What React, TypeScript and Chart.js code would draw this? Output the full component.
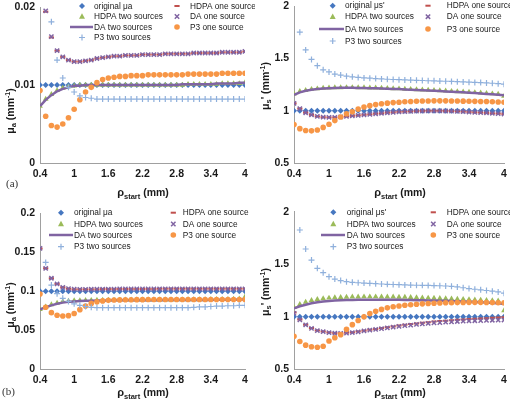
import React, { useEffect, useRef } from 'react';
import { Chart, registerables } from 'chart.js';
Chart.register(...registerables);

// ---------- data ----------
const xValues = [0.4, 0.5, 0.6, 0.7, 0.8, 0.9, 1.0, 1.1, 1.2, 1.3,
  1.4, 1.5, 1.6, 1.7, 1.8, 1.9, 2.0, 2.1, 2.2, 2.3,
  2.4, 2.5, 2.6, 2.7, 2.8, 2.9, 3.0, 3.1, 3.2, 3.3,
  3.4, 3.5, 3.6, 3.7, 3.8, 3.9, 4.0];
const xTickValues = [0.4, 1, 1.6, 2.2, 2.8, 3.4, 4];
const xTickLabels = ['0.4', '1', '1.6', '2.2', '2.8', '3.4', '4'];

const seriesNamesMuA = ['original μa', 'HDPA one source', 'HDPA two sources', 'DA one source', 'DA two sources', 'P3 one source', 'P3 two sources'];
const seriesNamesMuS = ["original μs'", 'HDPA one source', 'HDPA two sources', 'DA one source', 'DA two sources', 'P3 one source', 'P3 two sources'];

// (a) left: mu_a, true 0.01
const aYTicks = [0, 0.01, 0.02];
const aYLabels = ['0', '0.01', '0.02'];
const aOriginal = [0.01, 0.01, 0.01, 0.01, 0.01, 0.01, 0.01, 0.01, 0.01, 0.01,
  0.01, 0.01, 0.01, 0.01, 0.01, 0.01, 0.01, 0.01, 0.01, 0.01,
  0.01, 0.01, 0.01, 0.01, 0.01, 0.01, 0.01, 0.01, 0.01, 0.01,
  0.01, 0.01, 0.01, 0.01, 0.01, 0.01, 0.01];
const aHdpaOne = [null, 0.0194, 0.0161, 0.0144, 0.0136, 0.0132, 0.0130, 0.0130, 0.0131, 0.0132,
  0.0134, 0.0135, 0.0136, 0.0137, 0.0137, 0.0138, 0.0138, 0.0138, 0.0139, 0.0139,
  0.0139, 0.0139, 0.0140, 0.0140, 0.0140, 0.0140, 0.0140, 0.0141, 0.0141, 0.0141,
  0.0141, 0.0141, 0.0142, 0.0142, 0.0142, 0.0142, 0.0143];
const aHdpaTwo = [0.0073, 0.0082, 0.0088, 0.0093, 0.0096, 0.0098, 0.0099, 0.0100, 0.0100, 0.0100,
  0.0100, 0.0100, 0.0100, 0.0100, 0.0100, 0.0100, 0.0100, 0.0100, 0.0100, 0.0100,
  0.0100, 0.0100, 0.0100, 0.0100, 0.0100, 0.0100, 0.0101, 0.0101, 0.0101, 0.0101,
  0.0101, 0.0101, 0.0102, 0.0102, 0.0102, 0.0102, 0.0103];
const aDaOne = [null, 0.0195, 0.0162, 0.0144, 0.0136, 0.0132, 0.0130, 0.0130, 0.0131, 0.0132,
  0.0134, 0.0135, 0.0136, 0.0137, 0.0137, 0.0138, 0.0138, 0.0138, 0.0139, 0.0139,
  0.0139, 0.0139, 0.0140, 0.0140, 0.0140, 0.0140, 0.0140, 0.0141, 0.0141, 0.0141,
  0.0141, 0.0141, 0.0142, 0.0142, 0.0142, 0.0142, 0.0143];
const aDaTwo = [0.0073, 0.0081, 0.0087, 0.0092, 0.0095, 0.0097, 0.0099, 0.0099, 0.0100, 0.0100,
  0.0100, 0.0100, 0.0100, 0.0100, 0.0100, 0.0100, 0.0100, 0.0100, 0.0100, 0.0100,
  0.0100, 0.0100, 0.0100, 0.0100, 0.0100, 0.0101, 0.0101, 0.0101, 0.0101, 0.0101,
  0.0101, 0.0102, 0.0102, 0.0102, 0.0102, 0.0103, 0.0103];
const aP3One = [0.0093, 0.0060, 0.0048, 0.0046, 0.0050, 0.0058, 0.0069, 0.0081, 0.0091, 0.0097,
  0.0103, 0.0107, 0.0109, 0.0110, 0.0111, 0.0111, 0.0112, 0.0112, 0.0112, 0.0113,
  0.0113, 0.0113, 0.0113, 0.0113, 0.0113, 0.0113, 0.0114, 0.0114, 0.0114, 0.0114,
  0.0114, 0.0114, 0.0115, 0.0115, 0.0115, 0.0115, 0.0115];
const aP3Two = [null, null, 0.0181, 0.0132, 0.0109, 0.0097, 0.0091, 0.0086, 0.0084, 0.0083,
  0.0082, 0.0082, 0.0082, 0.0082, 0.0082, 0.0082, 0.0082, 0.0082, 0.0082, 0.0082,
  0.0082, 0.0082, 0.0082, 0.0082, 0.0082, 0.0082, 0.0082, 0.0082, 0.0082, 0.0082,
  0.0082, 0.0082, 0.0082, 0.0082, 0.0082, 0.0082, 0.0082];

// (a) right: mu_s', true 1
const sYTicks = [0.5, 1, 1.5, 2];
const sYLabels = ['0.5', '1', '1.5', '2'];
const bOriginal = [1, 1, 1, 1, 1, 1, 1, 1, 1, 1,
  1, 1, 1, 1, 1, 1, 1, 1, 1, 1,
  1, 1, 1, 1, 1, 1, 1, 1, 1, 1,
  1, 1, 1, 1, 1, 1, 1];
const bHdpaOne = [1.07, 1.02, 0.98, 0.96, 0.945, 0.938, 0.936, 0.936, 0.94, 0.945,
  0.95, 0.955, 0.96, 0.965, 0.97, 0.975, 0.98, 0.984, 0.988, 0.99,
  0.993, 0.995, 0.997, 0.998, 0.998, 0.998, 0.997, 0.995, 0.993, 0.99,
  0.987, 0.984, 0.981, 0.978, 0.975, 0.972, 0.968];
const bHdpaTwo = [1.16, 1.185, 1.195, 1.205, 1.21, 1.215, 1.218, 1.22, 1.221, 1.222,
  1.222, 1.221, 1.22, 1.219, 1.218, 1.216, 1.214, 1.212, 1.21, 1.207,
  1.205, 1.202, 1.2, 1.197, 1.195, 1.192, 1.189, 1.186, 1.183, 1.18,
  1.177, 1.174, 1.17, 1.166, 1.162, 1.158, 1.14];
const bDaOne = [1.07, 1.02, 0.98, 0.96, 0.945, 0.938, 0.936, 0.936, 0.94, 0.945,
  0.95, 0.955, 0.96, 0.965, 0.97, 0.975, 0.98, 0.984, 0.988, 0.99,
  0.993, 0.995, 0.997, 0.998, 0.998, 0.998, 0.997, 0.995, 0.993, 0.99,
  0.987, 0.984, 0.981, 0.978, 0.975, 0.972, 0.968];
const bDaTwo = [1.15, 1.175, 1.19, 1.2, 1.207, 1.212, 1.215, 1.217, 1.218, 1.218,
  1.218, 1.217, 1.216, 1.215, 1.214, 1.212, 1.21, 1.208, 1.206, 1.203,
  1.2, 1.198, 1.195, 1.192, 1.19, 1.187, 1.184, 1.181, 1.178, 1.175,
  1.171, 1.168, 1.164, 1.16, 1.156, 1.152, 1.148];
const bP3One = [0.868, 0.828, 0.81, 0.807, 0.815, 0.84, 0.87, 0.905, 0.94, 0.97,
  0.99, 1.015, 1.035, 1.048, 1.058, 1.066, 1.072, 1.077, 1.081, 1.085,
  1.088, 1.09, 1.092, 1.093, 1.094, 1.094, 1.094, 1.093, 1.092, 1.091,
  1.09, 1.089, 1.088, 1.087, 1.085, 1.083, 1.08];
const bP3Two = [null, 1.75, 1.58, 1.49, 1.43, 1.39, 1.37, 1.35, 1.34, 1.33,
  1.323, 1.318, 1.313, 1.31, 1.307, 1.303, 1.3, 1.298, 1.296, 1.294,
  1.292, 1.29, 1.288, 1.286, 1.285, 1.283, 1.281, 1.279, 1.277, 1.275,
  1.272, 1.27, 1.268, 1.265, 1.262, 1.258, 1.253];

// (b) left: mu_a, true 0.1
const cYTicks = [0, 0.05, 0.1, 0.15, 0.2];
const cYLabels = ['0', '0.05', '0.1', '0.15', '0.2'];
const cOriginal = [0.1, 0.1, 0.1, 0.1, 0.1, 0.1, 0.1, 0.1, 0.1, 0.1,
  0.1, 0.1, 0.1, 0.1, 0.1, 0.1, 0.1, 0.1, 0.1, 0.1,
  0.1, 0.1, 0.1, 0.1, 0.1, 0.1, 0.1, 0.1, 0.1, 0.1,
  0.1, 0.1, 0.1, 0.1, 0.1, 0.1, 0.1];
const cHdpaOne = [0.155, 0.1295, 0.1167, 0.1094, 0.1051, 0.1034, 0.1027, 0.1025, 0.1025, 0.1026,
  0.1027, 0.1028, 0.1028, 0.1029, 0.103, 0.103, 0.103, 0.1031, 0.1031, 0.1031,
  0.1031, 0.1032, 0.1032, 0.1032, 0.1032, 0.1032, 0.1032, 0.1032, 0.1032, 0.1032,
  0.1032, 0.1032, 0.1032, 0.1032, 0.1032, 0.1032, 0.1032];
const cHdpaTwo = [0.077, 0.080, 0.083, 0.085, 0.087, 0.0875, 0.088, 0.0883, 0.0885, 0.0886,
  0.0887, 0.0888, 0.0888, 0.0889, 0.0889, 0.089, 0.089, 0.089, 0.089, 0.089,
  0.089, 0.089, 0.0891, 0.0891, 0.0892, 0.0892, 0.0893, 0.0894, 0.0894, 0.0895,
  0.0896, 0.0897, 0.0898, 0.0899, 0.09, 0.0903, 0.093];
const cDaOne = [0.155, 0.1295, 0.1167, 0.1094, 0.1051, 0.1034, 0.1027, 0.1025, 0.1025, 0.1026,
  0.1027, 0.1028, 0.1028, 0.1029, 0.103, 0.103, 0.103, 0.1031, 0.1031, 0.1031,
  0.1031, 0.1032, 0.1032, 0.1032, 0.1032, 0.1032, 0.1032, 0.1032, 0.1032, 0.1032,
  0.1032, 0.1032, 0.1032, 0.1032, 0.1032, 0.1032, 0.1032];
const cDaTwo = [0.077, 0.0795, 0.082, 0.084, 0.0855, 0.0865, 0.087, 0.0875, 0.0878, 0.088,
  0.0881, 0.0882, 0.0883, 0.0884, 0.0884, 0.0885, 0.0885, 0.0885, 0.0885, 0.0886,
  0.0886, 0.0886, 0.0887, 0.0887, 0.0887, 0.0888, 0.0888, 0.0889, 0.0889, 0.089,
  0.089, 0.0891, 0.0891, 0.0892, 0.0893, 0.0894, 0.0895];
const cP3One = [0.0966, 0.0795, 0.0726, 0.0692, 0.0684, 0.0688, 0.0715, 0.0765, 0.081, 0.0845,
  0.0865, 0.0877, 0.0884, 0.0888, 0.089, 0.0891, 0.0892, 0.0893, 0.0893, 0.0894,
  0.0894, 0.0894, 0.0894, 0.0894, 0.0894, 0.0894, 0.0894, 0.0894, 0.0894, 0.0894,
  0.0894, 0.0894, 0.0895, 0.0895, 0.0895, 0.0895, 0.0895];
const cP3Two = [null, 0.137, 0.108, 0.097, 0.091, 0.087, 0.084, 0.082, 0.0805, 0.0795,
  0.079, 0.079, 0.079, 0.079, 0.079, 0.079, 0.079, 0.079, 0.079, 0.079,
  0.079, 0.079, 0.079, 0.079, 0.079, 0.079, 0.079, 0.0795, 0.08, 0.08,
  0.0805, 0.081, 0.081, 0.0815, 0.0815, 0.082, 0.082];

// (b) right: mu_s', true 1
const dOriginal = [1, 1, 1, 1, 1, 1, 1, 1, 1, 1,
  1, 1, 1, 1, 1, 1, 1, 1, 1, 1,
  1, 1, 1, 1, 1, 1, 1, 1, 1, 1,
  1, 1, 1, 1, 1, 1, 1];
const dHdpaOne = [1.04, 0.975, 0.925, 0.893, 0.87, 0.86, 0.851, 0.845, 0.844, 0.847,
  0.852, 0.86, 0.868, 0.876, 0.884, 0.892, 0.9, 0.908, 0.916, 0.923,
  0.93, 0.937, 0.943, 0.949, 0.954, 0.959, 0.963, 0.967, 0.971, 0.975,
  0.978, 0.981, 0.984, 0.987, 0.99, 0.992, 0.995];
const dHdpaTwo = [1.09, 1.118, 1.14, 1.156, 1.166, 1.173, 1.179, 1.182, 1.185, 1.187,
  1.189, 1.19, 1.191, 1.191, 1.191, 1.19, 1.19, 1.189, 1.188, 1.187,
  1.185, 1.183, 1.181, 1.179, 1.177, 1.175, 1.173, 1.171, 1.169, 1.167,
  1.165, 1.162, 1.16, 1.157, 1.155, 1.152, 1.058];
const dDaOne = [1.033, 0.97, 0.922, 0.89, 0.868, 0.858, 0.849, 0.843, 0.842, 0.845,
  0.85, 0.857, 0.865, 0.872, 0.88, 0.887, 0.895, 0.902, 0.909, 0.915,
  0.921, 0.927, 0.932, 0.937, 0.941, 0.945, 0.949, 0.952, 0.955, 0.958,
  0.96, 0.962, 0.964, 0.966, 0.967, 0.968, 0.969];
const dDaTwo = [1.08, 1.1, 1.115, 1.128, 1.138, 1.145, 1.15, 1.154, 1.157, 1.159,
  1.16, 1.161, 1.162, 1.162, 1.162, 1.162, 1.162, 1.161, 1.161, 1.16,
  1.159, 1.158, 1.157, 1.156, 1.155, 1.153, 1.152, 1.15, 1.148, 1.146,
  1.144, 1.141, 1.138, 1.135, 1.132, 1.128, 1.122];
const dP3One = [0.815, 0.765, 0.73, 0.715, 0.71, 0.72, 0.77, 0.8, 0.83, 0.88,
  0.925, 0.965, 1.0, 1.03, 1.053, 1.07, 1.085, 1.095, 1.103, 1.11,
  1.115, 1.119, 1.123, 1.126, 1.129, 1.131, 1.133, 1.134, 1.135, 1.136,
  1.137, 1.137, 1.137, 1.136, 1.135, 1.134, 1.133];
const dP3Two = [null, 1.826, 1.645, 1.54, 1.461, 1.42, 1.382, 1.359, 1.344, 1.334,
  1.328, 1.324, 1.321, 1.318, 1.315, 1.312, 1.309, 1.307, 1.305, 1.303,
  1.302, 1.3, 1.299, 1.298, 1.297, 1.295, 1.293, 1.29, 1.284, 1.276,
  1.268, 1.262, 1.256, 1.25, 1.244, 1.236, 1.225];

// ---------- styles ----------
const C_BLUE = '#4677C0';
const C_RED = '#C0504D';
const C_GREEN = '#9BBB59';
const C_PURPLE = '#8064A2';
const C_ORANGE = '#F79646';
const C_LIGHT = '#8FB0DC';
const AXIS_COLOR = '#A0A0A0';
const TEXT_COLOR = '#1a1a1a';
const SANS = '"Liberation Sans", Arial, sans-serif';

type Kind = 'diamond' | 'dash' | 'triangle' | 'x' | 'line' | 'circle' | 'plus';
const seriesKinds: Kind[] = ['diamond', 'dash', 'triangle', 'x', 'line', 'circle', 'plus'];

function datasetStyle(kind: Kind) {
  switch (kind) {
    case 'diamond': return { pointStyle: 'rectRot', pointRadius: 3, backgroundColor: C_BLUE, borderColor: C_BLUE, borderWidth: 0 };
    case 'dash': return { pointStyle: 'line', pointRadius: 2.6, backgroundColor: C_RED, borderColor: C_RED, borderWidth: 2 };
    case 'triangle': return { pointStyle: 'triangle', pointRadius: 3.3, backgroundColor: C_GREEN, borderColor: C_GREEN, borderWidth: 0 };
    case 'x': return { pointStyle: 'crossRot', pointRadius: 3, backgroundColor: C_PURPLE, borderColor: C_PURPLE, borderWidth: 1.5 };
    case 'line': return { pointRadius: 0, showLine: true, borderColor: C_PURPLE, backgroundColor: C_PURPLE, borderWidth: 2.5 };
    case 'circle': return { pointStyle: 'circle', pointRadius: 2.8, backgroundColor: C_ORANGE, borderColor: C_ORANGE, borderWidth: 0 };
    case 'plus': return { pointStyle: 'cross', pointRadius: 3, backgroundColor: C_LIGHT, borderColor: C_LIGHT, borderWidth: 1.2 };
  }
}

function drawMarker(ctx: CanvasRenderingContext2D, kind: Kind, x: number, y: number, lineRange?: number[]) {
  ctx.save();
  switch (kind) {
    case 'diamond':
      ctx.fillStyle = C_BLUE; ctx.beginPath();
      ctx.moveTo(x, y - 3); ctx.lineTo(x + 3, y); ctx.lineTo(x, y + 3); ctx.lineTo(x - 3, y); ctx.closePath(); ctx.fill();
      break;
    case 'dash':
      ctx.strokeStyle = C_RED; ctx.lineWidth = 2; ctx.beginPath();
      ctx.moveTo(x - 2.6, y); ctx.lineTo(x + 2.6, y); ctx.stroke();
      break;
    case 'triangle':
      ctx.fillStyle = C_GREEN; ctx.beginPath();
      ctx.moveTo(x, y - 3.2); ctx.lineTo(x + 3, y + 2.2); ctx.lineTo(x - 3, y + 2.2); ctx.closePath(); ctx.fill();
      break;
    case 'x':
      ctx.strokeStyle = C_PURPLE; ctx.lineWidth = 1.5; ctx.beginPath();
      ctx.moveTo(x - 2.2, y - 2.2); ctx.lineTo(x + 2.2, y + 2.2);
      ctx.moveTo(x + 2.2, y - 2.2); ctx.lineTo(x - 2.2, y + 2.2); ctx.stroke();
      break;
    case 'line':
      ctx.strokeStyle = C_PURPLE; ctx.lineWidth = 2.5; ctx.beginPath();
      ctx.moveTo(lineRange ? lineRange[0] : x - 12, y); ctx.lineTo(lineRange ? lineRange[1] : x + 12, y); ctx.stroke();
      break;
    case 'circle':
      ctx.fillStyle = C_ORANGE; ctx.beginPath(); ctx.arc(x, y, 2.8, 0, Math.PI * 2); ctx.fill();
      break;
    case 'plus':
      ctx.strokeStyle = C_LIGHT; ctx.lineWidth = 1.2; ctx.beginPath();
      ctx.moveTo(x - 3, y); ctx.lineTo(x + 3, y); ctx.moveTo(x, y - 3); ctx.lineTo(x, y + 3); ctx.stroke();
      break;
  }
  ctx.restore();
}

type Part = { t: string; size: number; dy?: number };
function drawRich(ctx: CanvasRenderingContext2D, parts: Part[], cx: number, baseline: number) {
  let total = 0;
  for (const p of parts) { ctx.font = `bold ${p.size}px ${SANS}`; total += ctx.measureText(p.t).width; }
  let x = cx - total / 2;
  ctx.textAlign = 'left';
  ctx.textBaseline = 'alphabetic';
  for (const p of parts) {
    ctx.font = `bold ${p.size}px ${SANS}`;
    ctx.fillText(p.t, x, baseline + (p.dy || 0));
    x += ctx.measureText(p.t).width;
  }
}

const muAParts: Part[] = [{ t: 'μ', size: 10.5 }, { t: 'a', size: 7.5, dy: 2.5 }, { t: ' (mm', size: 10.5 }, { t: '-1', size: 7, dy: -4 }, { t: ')', size: 10.5 }];
const muSParts: Part[] = [{ t: 'μ', size: 10.5 }, { t: 's', size: 7.5, dy: 2.5 }, { t: "' (mm", size: 10.5 }, { t: '-1', size: 7, dy: -4 }, { t: ')', size: 10.5 }];
const rhoParts: Part[] = [{ t: 'ρ', size: 11 }, { t: 'start', size: 7.5, dy: 2.5 }, { t: ' (mm)', size: 10.5 }];

interface PanelLayout {
  left: number; top: number; w: number; h: number;
  area: { l: number; r: number; t: number; b: number };
  yTitle: [number, number];
  xTitle: [number, number];
  legend: { rows: number[]; c1m: number; c1t: number; c2m: number; c2t: number; line: number[] };
  tag?: { text: string; x: number; y: number };
}

interface PanelData {
  series: (number | null)[][];
  names: string[];
  yMin: number; yMax: number; yTicks: number[]; yLabels: string[];
  yParts: Part[];
}

const panels: { layout: PanelLayout; data: PanelData }[] = [
  {
    layout: {
      left: 0, top: 0, w: 255, h: 200,
      area: { l: 40, r: 245, t: 7, b: 163 },
      yTitle: [10, 111], xTitle: [143, 196],
      legend: { rows: [6, 16.5, 27, 37.5], c1m: 82, c1t: 94, c2m: 177, c2t: 190, line: [70, 93] },
      tag: { text: '(a)', x: 6, y: 187 },
    },
    data: { series: [aOriginal, aHdpaOne, aHdpaTwo, aDaOne, aDaTwo, aP3One, aP3Two], names: seriesNamesMuA, yMin: 0, yMax: 0.02, yTicks: aYTicks, yLabels: aYLabels, yParts: muAParts },
  },
  {
    layout: {
      left: 255, top: 0, w: 255, h: 200,
      area: { l: 39, r: 251, t: 5, b: 163 },
      yTitle: [10, 86], xTitle: [145, 196],
      legend: { rows: [5.7, 16.7, 29, 41], c1m: 77.7, c1t: 90, c2m: 173, c2t: 191.7, line: [64, 89] },
    },
    data: { series: [bOriginal, bHdpaOne, bHdpaTwo, bDaOne, bDaTwo, bP3One, bP3Two], names: seriesNamesMuS, yMin: 0.5, yMax: 2, yTicks: sYTicks, yLabels: sYLabels, yParts: muSParts },
  },
  {
    layout: {
      left: 0, top: 200, w: 255, h: 201,
      area: { l: 40, r: 245, t: 13.3, b: 169.3 },
      yTitle: [10, 105], xTitle: [143, 196],
      legend: { rows: [12.7, 24, 35, 46.7], c1m: 61, c1t: 74, c2m: 173.3, c2t: 182.7, line: [49, 73] },
      tag: { text: '(b)', x: 2, y: 195 },
    },
    data: { series: [cOriginal, cHdpaOne, cHdpaTwo, cDaOne, cDaTwo, cP3One, cP3Two], names: seriesNamesMuA, yMin: 0, yMax: 0.2, yTicks: cYTicks, yLabels: cYLabels, yParts: muAParts },
  },
  {
    layout: {
      left: 255, top: 200, w: 255, h: 201,
      area: { l: 39, r: 251, t: 11.7, b: 169.3 },
      yTitle: [10, 92], xTitle: [145, 196],
      legend: { rows: [12.3, 24, 35, 46.7], c1m: 78.3, c1t: 91.7, c2m: 178.3, c2t: 191.7, line: [66, 90] },
    },
    data: { series: [dOriginal, dHdpaOne, dHdpaTwo, dDaOne, dDaTwo, dP3One, dP3Two], names: seriesNamesMuS, yMin: 0.5, yMax: 2, yTicks: sYTicks, yLabels: sYLabels, yParts: muSParts },
  },
];

function Panel({ layout, data }: { layout: PanelLayout; data: PanelData }) {
  const ref = useRef<HTMLCanvasElement | null>(null);
  useEffect(() => {
    if (!ref.current) return;
    const { area, w, h } = layout;
    const datasets = data.series.map((vals, i) => ({
      label: data.names[i],
      data: xValues.map((x, j) => ({ x, y: vals[j] })),
      order: 10 - i,
      ...(datasetStyle(seriesKinds[i]) as any),
    }));
    const deco = {
      id: 'deco',
      afterDraw(chart: any) {
        const ctx: CanvasRenderingContext2D = chart.ctx;
        ctx.save();
        const lg = layout.legend;
        const leftIdx = [0, 2, 4, 6];
        const rightIdx = [1, 3, 5];
        const label = (text: string, x: number, y: number) => {
          ctx.fillStyle = TEXT_COLOR; ctx.font = `8.3px ${SANS}`; ctx.textBaseline = 'middle'; ctx.textAlign = 'left';
          ctx.fillText(text, x, y + 0.5);
        };
        leftIdx.forEach((si, r) => {
          const y = lg.rows[r];
          drawMarker(ctx, seriesKinds[si], lg.c1m, y, lg.line);
          label(data.names[si], lg.c1t, y);
        });
        rightIdx.forEach((si, r) => {
          const y = lg.rows[r];
          drawMarker(ctx, seriesKinds[si], lg.c2m, y);
          label(data.names[si], lg.c2t, y);
        });
        ctx.fillStyle = TEXT_COLOR;
        drawRich(ctx, rhoParts, layout.xTitle[0], layout.xTitle[1]);
        ctx.save();
        ctx.translate(layout.yTitle[0], layout.yTitle[1]);
        ctx.rotate(-Math.PI / 2);
        drawRich(ctx, data.yParts, 0, 3.8);
        ctx.restore();
        if (layout.tag) {
          ctx.font = `11px "Liberation Serif", "DejaVu Serif", serif`;
          ctx.fillStyle = '#333';
          ctx.textAlign = 'left';
          ctx.textBaseline = 'alphabetic';
          ctx.fillText(layout.tag.text, layout.tag.x, layout.tag.y);
        }
        ctx.restore();
      },
    };
    const chart = new Chart(ref.current, {
      type: 'scatter',
      data: { datasets },
      options: {
        animation: false,
        responsive: false,
        maintainAspectRatio: false,
        devicePixelRatio: 1,
        layout: { padding: { left: 0, top: area.t, right: w - area.r, bottom: 0 } },
        plugins: { legend: { display: false }, tooltip: { enabled: false }, title: { display: false } },
        scales: {
          x: {
            type: 'linear', min: 0.4, max: 4,
            grid: { display: false, drawTicks: false },
            border: { display: true, color: AXIS_COLOR, width: 1 },
            afterBuildTicks: (scale: any) => { scale.ticks = xTickValues.map((v) => ({ value: v })); },
            afterFit: (scale: any) => { scale.height = h - area.b; scale.paddingLeft = 0; scale.paddingRight = 0; },
            ticks: {
              autoSkip: false, maxRotation: 0, padding: 5, color: TEXT_COLOR,
              font: { family: SANS, size: 10.5, weight: 'bold' },
              callback: (_v: any, i: number) => xTickLabels[i],
            },
          },
          y: {
            type: 'linear', min: data.yMin, max: data.yMax,
            grid: { display: false, drawTicks: false },
            border: { display: true, color: AXIS_COLOR, width: 1 },
            afterBuildTicks: (scale: any) => { scale.ticks = data.yTicks.map((v) => ({ value: v })); },
            afterFit: (scale: any) => { scale.width = area.l; scale.paddingTop = 0; scale.paddingBottom = 0; },
            ticks: {
              padding: 5, color: TEXT_COLOR,
              font: { family: SANS, size: 10.5, weight: 'bold' },
              callback: (_v: any, i: number) => data.yLabels[i],
            },
          },
        },
      } as any,
      plugins: [deco],
    });
    return () => chart.destroy();
  }, []);
  return (
    <canvas
      ref={ref}
      width={layout.w}
      height={layout.h}
      style={{ position: 'absolute', left: layout.left, top: layout.top, width: layout.w, height: layout.h, display: 'block' }}
    />
  );
}

export default function App() {
  return (
    <div style={{ position: 'fixed', left: 0, top: 0, width: 510, height: 401, background: '#fff', overflow: 'hidden' }}>
      {panels.map((p, i) => (
        <Panel key={i} layout={p.layout} data={p.data} />
      ))}
    </div>
  );
}
